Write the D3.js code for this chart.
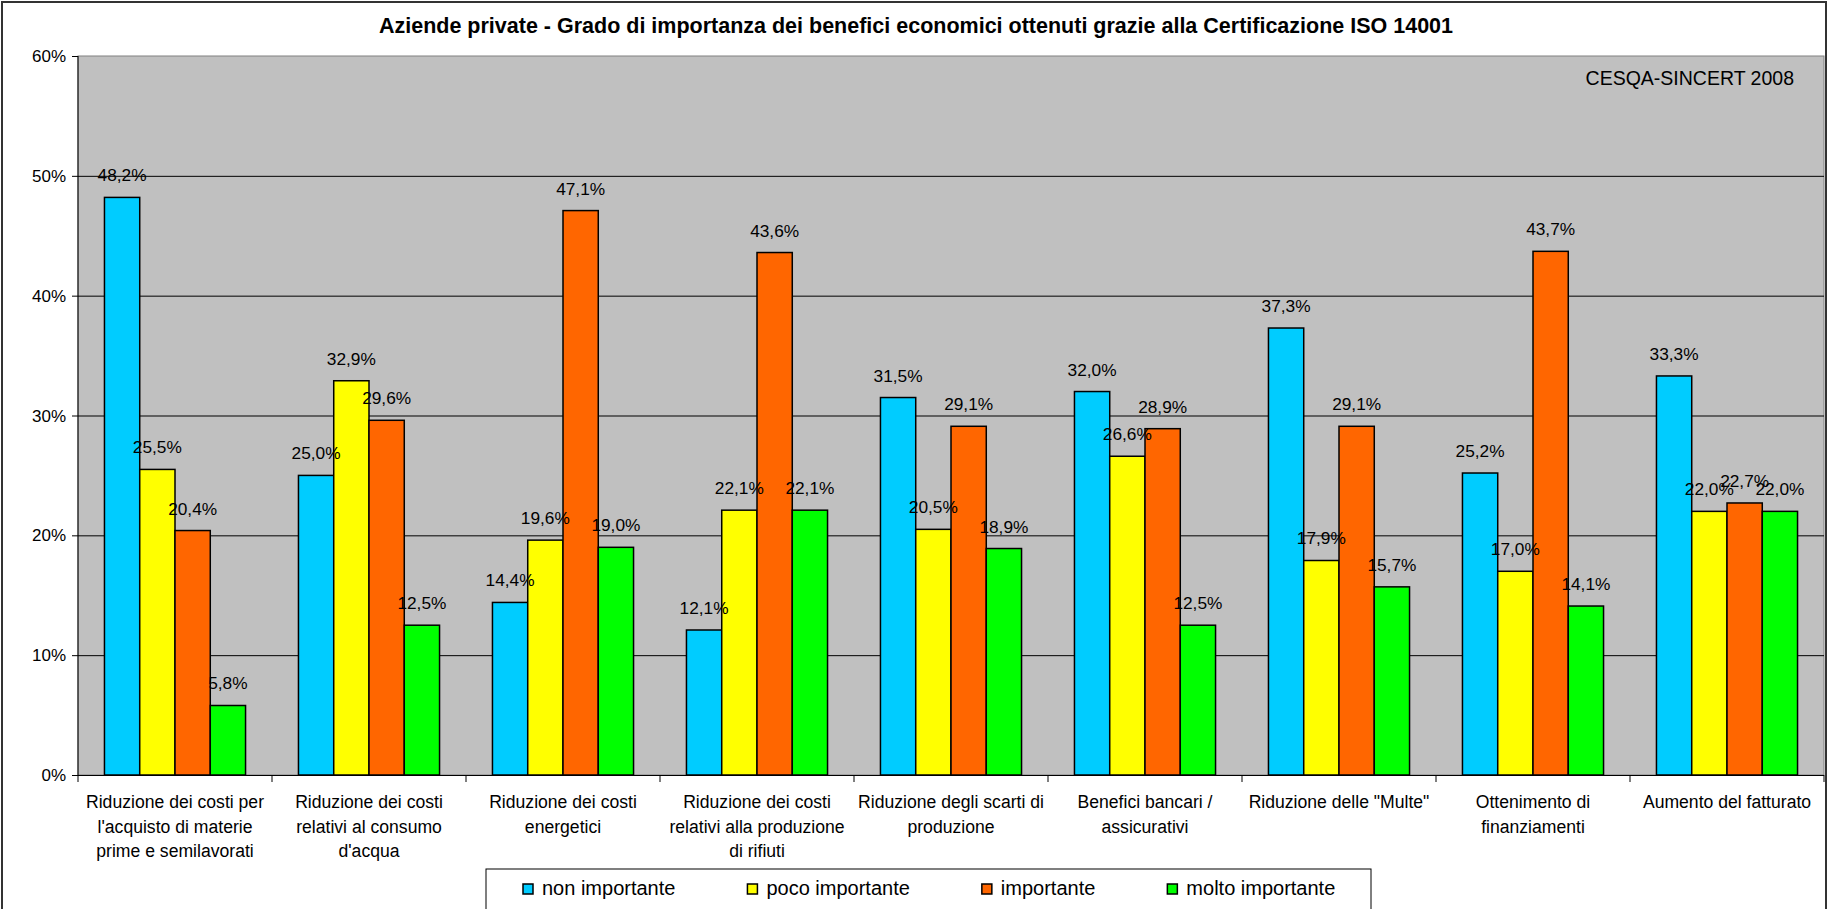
<!DOCTYPE html>
<html>
<head>
<meta charset="utf-8">
<script src="https://cdn.jsdelivr.net/npm/d3@7"></script>
<style>
  body { margin: 0; background: white; }
  text { font-family: "Liberation Sans", Arial, sans-serif; fill: #000; }
</style>
</head>
<body>
<div id="container"></div>
<script>
// categories (lines already wrapped like in the original)
const categories = [
    "Riduzione dei costi per\nl'acquisto di materie\nprime e semilavorati",
    "Riduzione dei costi\nrelativi al consumo\nd'acqua",
    "Riduzione dei costi\nenergetici",
    "Riduzione dei costi\nrelativi alla produzione\ndi rifiuti",
    "Riduzione degli scarti di\nproduzione",
    "Benefici bancari /\nassicurativi",
    "Riduzione delle \"Multe\"",
    "Ottenimento di\nfinanziamenti",
    "Aumento del fatturato"
]
const series = ["non importante", "poco importante", "importante", "molto importante"]
const colors = ["#00CCFF", "#FFFF00", "#FF6600", "#00FF00"]

const nonImportante = [48.2, 25.0, 14.4, 12.1, 31.5, 32.0, 37.3, 25.2, 33.3]
const pocoImportante = [25.5, 32.9, 19.6, 22.1, 20.5, 26.6, 17.9, 17.0, 22.0]
const importante = [20.4, 29.6, 47.1, 43.6, 29.1, 28.9, 29.1, 43.7, 22.7]
const moltoImportante = [5.8, 12.5, 19.0, 22.1, 18.9, 12.5, 15.7, 14.1, 22.0]
const yTicks = [0, 10, 20, 30, 40, 50, 60]

const values = [nonImportante, pocoImportante, importante, moltoImportante]

const w = 1827, h = 909
const plotLeft = 78, plotRight = 1824, plotTop = 56, plotBottom = 775

const svg = d3.select("#container").append("svg").attr("width", w).attr("height", h)

// outer frame
svg.append("rect").attr("x", 2).attr("y", 2).attr("width", w - 3).attr("height", h + 20)
    .attr("fill", "white").attr("stroke", "#333").attr("stroke-width", 2)

svg.append("text").attr("x", 916).attr("y", 33).attr("text-anchor", "middle")
    .attr("font-size", 21.5).attr("font-weight", "bold")
    .text("Aziende private - Grado di importanza dei benefici economici ottenuti grazie alla Certificazione ISO 14001")

const x0 = d3.scaleBand().domain(d3.range(categories.length)).range([plotLeft, plotRight])
const x1 = d3.scaleBand().domain(d3.range(series.length)).range([0, x0.bandwidth()]).paddingOuter(0.75)
const y = d3.scaleLinear().domain([0, 60]).range([plotBottom, plotTop])

// plot area
svg.append("rect").attr("x", plotLeft).attr("y", plotTop).attr("width", plotRight - plotLeft).attr("height", plotBottom - plotTop)
    .attr("fill", "#C0C0C0").attr("stroke", "#808080")

svg.append("g").selectAll("line").data(yTicks.filter(d => d > 0 && d < 60)).join("line")
    .attr("x1", plotLeft).attr("x2", plotRight).attr("y1", d => y(d) + 0.5).attr("y2", d => y(d) + 0.5)
    .attr("stroke", "#000")

svg.append("text").attr("x", 1794).attr("y", 85).attr("text-anchor", "end").attr("font-size", 19.5)
    .text("CESQA-SINCERT 2008")

// bars
const groups = svg.append("g").selectAll("g").data(categories).join("g")
    .attr("transform", (d, i) => `translate(${x0(i)},0)`)

groups.each(function (c, ci) {
    const g = d3.select(this)
    const rows = series.map((s, si) => ({ si, v: values[si][ci] }))
    g.selectAll("rect").data(rows).join("rect")
        .attr("x", d => x1(d.si)).attr("width", x1.bandwidth())
        .attr("y", d => y(d.v)).attr("height", d => plotBottom - y(d.v))
        .attr("fill", d => colors[d.si]).attr("stroke", "#000").attr("stroke-width", 1.5)
    g.selectAll("text").data(rows).join("text")
        .attr("x", d => x1(d.si) + x1.bandwidth() / 2).attr("y", d => y(d.v) - 16)
        .attr("text-anchor", "middle").attr("font-size", 17.3)
        .text(d => d.v.toFixed(1).replace(".", ",") + "%")
})

// axes
svg.append("line").attr("x1", plotLeft).attr("x2", plotLeft).attr("y1", plotTop).attr("y2", plotBottom).attr("stroke", "#000")
svg.append("line").attr("x1", plotLeft).attr("x2", plotRight).attr("y1", plotBottom + 0.5).attr("y2", plotBottom + 0.5).attr("stroke", "#000")

const yAxis = svg.append("g")
yAxis.selectAll("line").data(yTicks).join("line")
    .attr("x1", plotLeft - 6).attr("x2", plotLeft).attr("y1", d => y(d) + 0.5).attr("y2", d => y(d) + 0.5).attr("stroke", "#000")
yAxis.selectAll("text").data(yTicks).join("text")
    .attr("x", plotLeft - 12).attr("y", d => y(d) + 6).attr("text-anchor", "end").attr("font-size", 17)
    .text(d => d + "%")

const xTicks = d3.range(categories.length + 1).map(i => i < categories.length ? x0(i) : plotRight)
svg.append("g").selectAll("line").data(xTicks).join("line")
    .attr("x1", d => d).attr("x2", d => d).attr("y1", plotBottom).attr("y2", plotBottom + 7).attr("stroke", "#000")

const catLabels = svg.append("g").selectAll("text").data(categories).join("text")
    .attr("text-anchor", "middle").attr("font-size", 17.6)
    .attr("transform", (d, i) => `translate(${x0(i) + x0.bandwidth() / 2},808)`)
catLabels.selectAll("tspan").data(d => d.split("\n")).join("tspan")
    .attr("x", 0).attr("y", (d, i) => i * 24.5).text(d => d)

// legend
const legend = svg.append("g")
legend.append("rect").attr("x", 486).attr("y", 869).attr("width", 885).attr("height", 60)
    .attr("fill", "white").attr("stroke", "#000")
let lx = 523
series.forEach((s, i) => {
    legend.append("rect").attr("x", lx).attr("y", 884).attr("width", 10).attr("height", 10)
        .attr("fill", colors[i]).attr("stroke", "#000").attr("stroke-width", 1.5)
    const t = legend.append("text").attr("x", lx + 19).attr("y", 895).attr("font-size", 20).text(s)
    lx += 19 + t.node().getComputedTextLength() + 72
})
</script>
</body>
</html>
